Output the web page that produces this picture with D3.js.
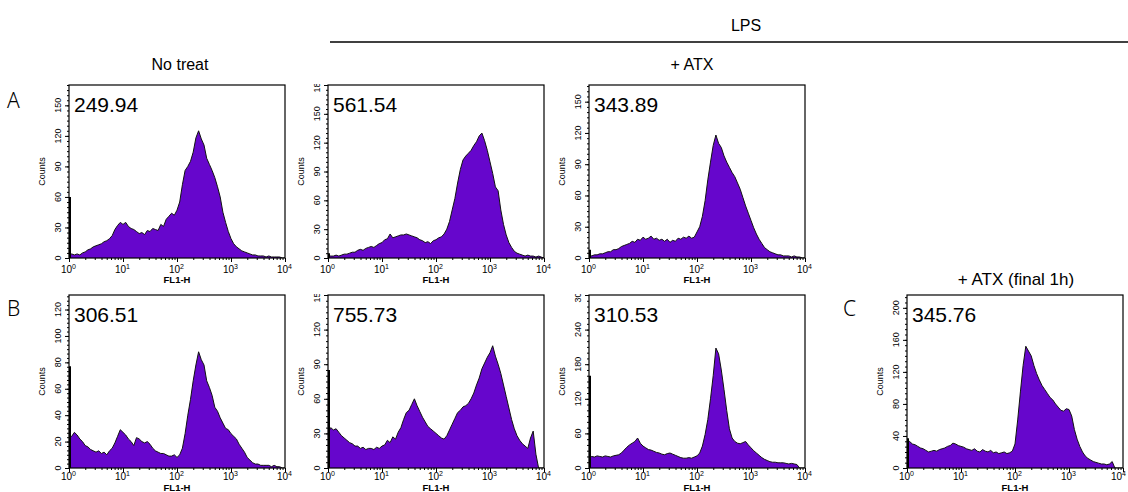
<!DOCTYPE html>
<html>
<head>
<meta charset="utf-8">
<script src="https://cdn.jsdelivr.net/npm/d3@7/dist/d3.min.js"></script>
<style>
  body { margin: 0; background: #fff; }
  svg { display: block; font-family: "Liberation Sans", Arial, sans-serif; }
</style>
</head>
<body>
<script>
// Histogram data: counts per bin, bins every 0.05 decade from 10^0 to 10^4
//= ================================
var logStep = 0.05;

var noTreatA = [3,4,3,4,3,5,6,8,9,11,
  12,13,14,16,17,19,22,28,32,35,
  33,35,31,29,28,26,24,25,23,27,
  26,29,28,27,33,31,38,41,44,42,
  47,55,72,86,90,95,104,118,125,117,
  111,98,92,86,79,70,60,45,35,26,
  19,14,11,9,7,6,5,4,3,3,
  2,2,2,1,2,1,1,1,1,0,
  0];

var lpsA = [3,2,2,3,2,3,4,4,5,6,
  6,8,9,8,10,11,12,11,13,15,
  16,19,20,25,21,22,23,24,24,25,
  24,23,22,21,19,18,16,17,15,18,
  19,21,22,25,30,38,50,62,78,92,
  102,106,109,112,117,121,127,130,122,112,
  100,88,74,70,50,35,24,16,11,7,
  5,4,3,2,3,2,2,1,2,1,
  0];

var lpsAtxA = [4,2,3,3,4,4,5,6,6,8,
  8,9,11,12,13,14,16,15,18,17,
  20,18,19,21,18,19,17,18,16,18,
  15,17,16,19,18,20,19,21,19,20,
  25,30,40,55,75,92,108,118,110,106,
  98,92,87,82,78,72,66,58,50,43,
  36,29,23,18,14,10,8,6,5,4,
  3,3,2,2,2,1,2,1,1,0,
  0];

var noTreatB = [22,24,27,25,22,20,17,16,14,13,
  12,13,11,12,10,13,15,19,24,29,
  27,25,22,20,17,23,22,20,19,20,
  18,15,13,12,11,11,10,9,9,10,
  8,10,15,26,40,52,66,78,88,82,
  78,66,61,55,46,43,38,34,30,29,
  26,24,22,18,15,12,8,6,4,3,
  3,2,2,2,2,1,2,1,1,0,
  0];

var lpsB = [30,35,33,34,31,28,26,24,22,21,
  19,19,17,18,16,17,17,16,18,17,
  19,20,24,22,27,25,31,35,42,48,
  50,55,60,54,49,44,40,36,34,32,
  30,28,26,25,28,33,38,43,48,50,
  53,54,56,60,65,72,78,86,91,96,
  100,106,97,90,82,72,62,52,42,34,
  28,24,21,19,17,26,32,12,0,0,
  0];

var lpsAtxB = [18,20,19,21,20,19,21,20,19,21,
  22,23,26,31,36,40,43,46,52,43,
  38,35,32,31,29,27,26,24,23,25,
  26,24,22,20,18,17,17,18,17,19,
  21,26,38,58,84,120,160,208,198,170,
  136,100,68,52,46,43,42,44,46,40,
  35,30,26,22,18,15,13,11,10,10,
  9,9,9,8,7,8,7,6,0,0,
  0];

var atxFinalC = [36,33,30,29,27,25,24,22,20,21,
  22,21,23,24,25,27,28,31,30,28,
  27,26,24,23,22,24,21,20,23,21,
  20,22,19,20,18,19,20,18,19,21,
  30,60,95,128,152,146,140,128,118,110,
  103,98,93,88,85,80,76,72,71,74,
  73,65,48,36,27,20,15,12,10,8,
  7,6,5,5,4,5,8,0,0,0,
  0];

// counts piled up in the first channel (10^0)
var edgeCounts = [60, 5, 8, 77, 85, 160, 37];
var meanLabels = ["249.94", "561.54", "343.89", "306.51", "755.73", "310.53", "345.76"];
var yMaxes = [170, 180, 166, 131, 150, 300, 216];
var yTickSteps = [30, 30, 30, 20, 30, 60, 40];
var xTickValues = [1, 10, 100, 1000, 10000];

// Step 1: Set up the figure
//= ================================
var svgWidth = 1128;
var svgHeight = 492;
var boxW = 216;
var boxH = 173;
var fillColor = "#6606cc";

var svg = d3.select("body")
  .append("svg")
  .attr("width", svgWidth)
  .attr("height", svgHeight);

var panelPos = [
  {x: 69, y: 85}, {x: 328, y: 85}, {x: 589, y: 85},
  {x: 69, y: 295}, {x: 328, y: 295}, {x: 589, y: 295},
  {x: 907, y: 295}
];
var allCounts = [noTreatA, lpsA, lpsAtxA, noTreatB, lpsB, lpsAtxB, atxFinalC];

// Step 2: Draw each histogram
//= ================================
allCounts.forEach(function(counts, i) {
  var pos = panelPos[i];
  var lowerRow = pos.y > 200;
  var g = svg.append("g").attr("transform", `translate(${pos.x}, ${pos.y})`);

  var xScale = d3.scaleLog().domain([1, 10000]).range([0, boxW]);
  var yScale = d3.scaleLinear().domain([0, yMaxes[i]]).range([boxH, 0]);

  var pts = counts.map(function(c, k) {
    return {v: Math.pow(10, k * logStep), c: c};
  });

  g.append("clipPath").attr("id", "clip" + i)
    .append("rect").attr("width", boxW).attr("height", boxH);

  var area = d3.area()
    .x(d => xScale(d.v))
    .y0(boxH)
    .y1(d => yScale(d.c));

  var line = d3.line()
    .x(d => xScale(d.v))
    .y(d => yScale(d.c));

  var plot = g.append("g").attr("clip-path", `url(#clip${i})`);
  plot.append("path").datum(pts)
    .attr("d", area)
    .attr("fill", fillColor);
  plot.append("path").datum(pts)
    .attr("d", line)
    .attr("fill", "none")
    .attr("stroke", "#111")
    .attr("stroke-width", 1);

  // first channel pile-up
  g.append("line")
    .attr("x1", 1).attr("x2", 1)
    .attr("y1", boxH).attr("y2", yScale(edgeCounts[i]))
    .attr("stroke", "#000")
    .attr("stroke-width", 2);

  // frame
  g.append("rect")
    .attr("width", boxW).attr("height", boxH)
    .attr("fill", "none")
    .attr("stroke", "#000")
    .attr("stroke-width", 1.2);

  // x axis: decades + minor ticks
  var minorX = [];
  [1, 10, 100, 1000].forEach(function(d) {
    for (var m = 2; m <= 9; m++) minorX.push(d * m);
  });
  g.append("g").attr("transform", `translate(0, ${boxH})`)
    .call(d3.axisBottom(xScale).tickValues(xTickValues).tickFormat("").tickSize(4))
    .call(a => a.select(".domain").remove());
  g.append("g").attr("transform", `translate(0, ${boxH})`)
    .call(d3.axisBottom(xScale).tickValues(minorX).tickFormat("").tickSize(2))
    .call(a => a.select(".domain").remove());

  var maxLabelX = svgWidth - pos.x - 2;
  var xl = g.append("g").selectAll("text")
    .data(xTickValues)
    .enter()
    .append("text")
    .attr("x", d => Math.min(xScale(d) + 7, maxLabelX))
    .attr("y", lowerRow ? boxH + 12 : boxH + 15)
    .attr("text-anchor", "end")
    .attr("font-size", "10px")
    .attr("fill", "#000");
  xl.append("tspan").text("10");
  xl.append("tspan").attr("dy", -4).attr("font-size", "7px").text(d => Math.round(Math.log10(d)));

  g.append("text")
    .attr("x", boxW / 2)
    .attr("y", lowerRow ? boxH + 23 : boxH + 25)
    .attr("text-anchor", "middle")
    .attr("font-size", "9.5px")
    .style("font-weight", "bold")
    .text("FL1-H");

  // y axis: major + minor ticks
  var step = yTickSteps[i];
  var majorY = d3.range(0, yMaxes[i] + 0.01, step);
  var minorY = d3.range(0, yMaxes[i] + 0.01, step / 6);
  g.append("g")
    .call(d3.axisLeft(yScale).tickValues(majorY).tickFormat("").tickSize(4))
    .call(a => a.select(".domain").remove());
  g.append("g")
    .call(d3.axisLeft(yScale).tickValues(minorY).tickFormat("").tickSize(2))
    .call(a => a.select(".domain").remove());

  g.append("clipPath").attr("id", "yclip" + i)
    .append("rect").attr("x", -40).attr("y", -1).attr("width", 40).attr("height", boxH + 20);

  g.append("g").attr("clip-path", `url(#yclip${i})`)
    .selectAll("text")
    .data(majorY)
    .enter()
    .append("text")
    .attr("transform", d => `translate(-8, ${yScale(d)}) rotate(-90)`)
    .attr("text-anchor", "middle")
    .attr("font-size", "9px")
    .text(d => d);

  g.append("text")
    .attr("transform", `translate(-24, ${boxH / 2}) rotate(-90)`)
    .attr("text-anchor", "middle")
    .attr("font-size", "9px")
    .text("Counts");

  // mean fluorescence
  g.append("text")
    .attr("x", 5)
    .attr("y", 27)
    .attr("font-size", "21px")
    .attr("fill", "#000")
    .text(meanLabels[i]);
});

// Step 3: Titles and panel letters
//= ================================
var headFont = "'Noto Sans', 'Liberation Sans', sans-serif";

svg.append("line")
  .attr("x1", 330).attr("x2", 1128)
  .attr("y1", 42).attr("y2", 42)
  .attr("stroke", "#000")
  .attr("stroke-width", 1.5);

svg.append("text")
  .attr("x", 746).attr("y", 31)
  .attr("text-anchor", "middle")
  .attr("font-size", "16px")
  .text("LPS");

svg.append("text")
  .attr("x", 180).attr("y", 70)
  .attr("text-anchor", "middle")
  .attr("font-size", "16px")
  .text("No treat");

svg.append("text")
  .attr("x", 692).attr("y", 70)
  .attr("text-anchor", "middle")
  .attr("font-size", "16px")
  .text("+ ATX");

svg.append("text")
  .attr("x", 1016).attr("y", 285)
  .attr("text-anchor", "middle")
  .attr("font-size", "17px")
  .text("+ ATX (final 1h)");

[["A", 7, 108], ["B", 7, 316], ["C", 843, 316]].forEach(function(l) {
  svg.append("text")
    .attr("x", l[1]).attr("y", l[2])
    .attr("font-family", headFont)
    .attr("font-size", "21px")
    .style("font-weight", 300)
    .text(l[0]);
});
</script>
</body>
</html>
